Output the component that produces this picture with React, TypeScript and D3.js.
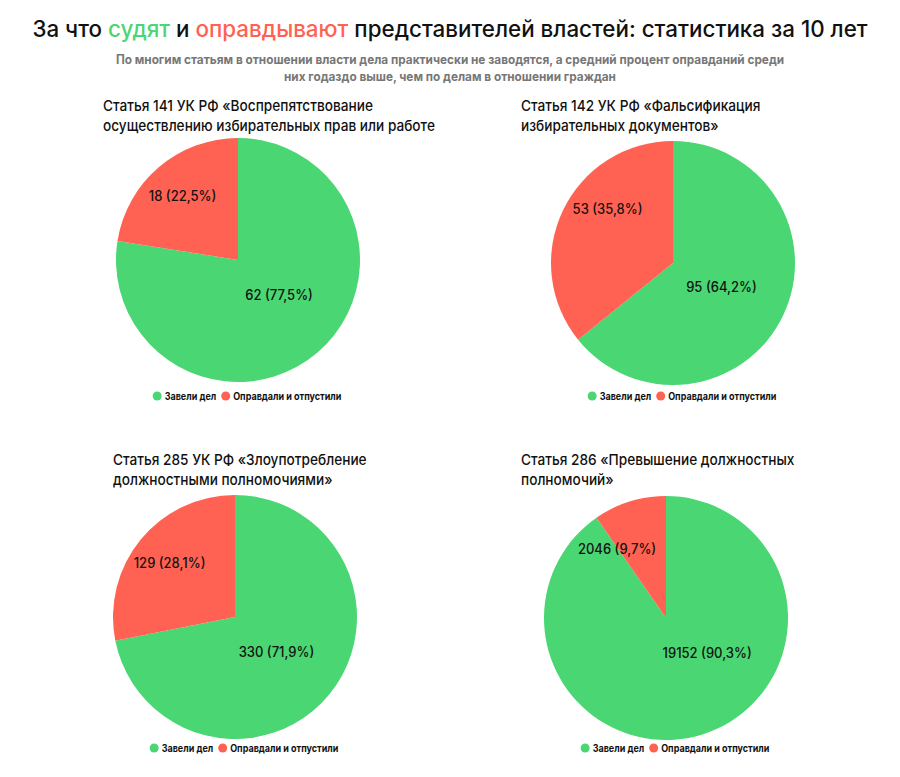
import React from "react";
import * as d3 from "d3";

// ---------- DATA ----------
const categories = ["Завели дел", "Оправдали и отпустили"];
const articleTitles = [
  ["Статья 141 УК РФ «Воспрепятствование", "осуществлению избирательных прав или работе"],
  ["Статья 142 УК РФ «Фальсификация", "избирательных документов»"],
  ["Статья 285 УК РФ «Злоупотребление", "должностными полномочиями»"],
  ["Статья 286 «Превышение должностных", "полномочий»"],
];
const casesOpened = [62, 95, 330, 19152];
const acquittedReleased = [18, 53, 129, 2046];

const titleParts = [
  { text: "За что ", kind: "plain" },
  { text: "судят", kind: "green" },
  { text: " и ", kind: "plain" },
  { text: "оправдывают", kind: "red" },
  { text: " представителей властей: статистика за 10 лет", kind: "plain" },
];
const subtitleLines = [
  "По многим статьям в отношении власти дела практически не заводятся, а средний процент оправданий среди",
  "них годаздо выше, чем по делам в отношении граждан",
];

// ---------- STYLE / LAYOUT ----------
const GREEN = "#4ad672";
const RED = "#ff6252";
const FONT = "Inter, 'Noto Sans', sans-serif";
const R = 122;
const layout = [
  { cx: 238, cy: 260, tx: 103, ty: 111, ly: 396 },
  { cx: 673, cy: 263, tx: 521, ty: 111, ly: 396 },
  { cx: 235, cy: 617, tx: 113, ty: 465, ly: 748 },
  { cx: 666, cy: 618, tx: 521, ty: 465, ly: 748 },
];
const colorScale = d3.scaleOrdinal<string, string>().domain(categories).range([GREEN, RED]);
const fmtPct = (v: number) => d3.format(".1f")(v).replace(".", ",");

let measureCtx: CanvasRenderingContext2D | null = null;
function measure(text: string, size: number, weight: number) {
  if (!measureCtx) measureCtx = document.createElement("canvas").getContext("2d");
  measureCtx!.font = `${weight} ${size}px ${FONT}`;
  return measureCtx!.measureText(text).width;
}

// condensed text: measured width scaled by factor
function CText({
  text,
  size,
  weight,
  factor,
  fill = "#111",
  ...rest
}: {
  text: string;
  size: number;
  weight: number;
  factor: number;
  fill?: string;
  [k: string]: any;
}) {
  return (
    <text
      fontFamily={FONT}
      fontSize={size}
      fontWeight={weight}
      fill={fill}
      textLength={measure(text, size, weight) * factor}
      lengthAdjust="spacingAndGlyphs"
      {...rest}
    >
      {text}
    </text>
  );
}

const TITLE_WIDTH = 836;
const F_PANEL = 0.91;
const F_SUB = 0.943;
const F_LABEL = 0.93;
const F_LEGEND = 0.9;

function Panel({ idx }: { idx: number }) {
  const L = layout[idx];
  const values = [casesOpened[idx], acquittedReleased[idx]];
  const total = d3.sum(values);
  const pie = d3.pie<number>().sort(null).value((d) => d)(values);
  const arc = d3.arc<d3.PieArcDatum<number>>().innerRadius(0).outerRadius(R);
  const deg = Math.PI / 180;

  const dotR = 4.5;
  const gapDot = 3;
  const gapItem = 5;
  const widths = categories.map((c) => measure(c, 10, 700) * F_LEGEND);
  const totalW = widths.reduce((s, w) => s + 2 * dotR + gapDot + w, 0) + gapItem;
  let lx = L.cx + 9 - totalW / 2;
  const legendItems = categories.map((c, i) => {
    const x0 = lx;
    lx += 2 * dotR + gapDot + widths[i] + gapItem;
    return { c, x0 };
  });

  return (
    <g>
      {articleTitles[idx].map((line, i) => (
        <CText key={i} text={line} size={15} weight={500} factor={F_PANEL} x={L.tx} y={L.ty + i * 20} />
      ))}
      <g transform={`translate(${L.cx},${L.cy})`}>
        {pie.map((p, i) => (
          <path key={i} d={arc(p) || ""} fill={colorScale(categories[i])} />
        ))}
        {pie.map((p, i) => {
          const mid = (p.startAngle + p.endAngle) / 2;
          const a =
            i === 0 ? Math.min(mid, 130 * deg) : Math.max(310 * deg, Math.min(mid, 325 * deg));
          const d = i === 0 ? 0.44 * R : 0.7 * R;
          return (
            <CText
              key={"l" + i}
              text={`${values[i]} (${fmtPct((values[i] / total) * 100)}%)`}
              size={14}
              weight={500}
              factor={F_LABEL}
              x={Math.sin(a) * d}
              y={-Math.cos(a) * d}
              textAnchor="middle"
              dominantBaseline="central"
            />
          );
        })}
      </g>
      <g>
        {legendItems.map(({ c, x0 }) => (
          <g key={c}>
            <circle cx={x0 + dotR} cy={L.ly} r={dotR} fill={colorScale(c)} />
            <CText
              text={c}
              size={10}
              weight={700}
              factor={F_LEGEND}
              x={x0 + 2 * dotR + gapDot}
              y={L.ly}
              dominantBaseline="central"
            />
          </g>
        ))}
      </g>
    </g>
  );
}

function Title() {
  const weight = 500;
  const full = titleParts.map((p) => p.text).join("");
  const size = (24 * TITLE_WIDTH) / measure(full, 24, weight);
  return (
    <text
      x={450}
      y={37}
      textAnchor="middle"
      fontFamily={FONT}
      fontSize={size}
      fontWeight={weight}
      fill="#111"
      style={{ whiteSpace: "pre" }}
    >
      {titleParts.map((p, i) => (
        <tspan key={i} fill={p.kind === "green" ? GREEN : p.kind === "red" ? RED : "#111"}>
          {p.text}
        </tspan>
      ))}
    </text>
  );
}

export default function App() {
  return (
    <svg
      width={900}
      height={777}
      style={{ position: "absolute", left: 0, top: 0, display: "block", background: "#fff" }}
    >
      <Title />
      {subtitleLines.map((l, i) => (
        <CText
          key={i}
          text={l}
          size={12.5}
          weight={700}
          factor={F_SUB}
          fill="#777"
          x={450}
          y={64 + i * 17}
          textAnchor="middle"
        />
      ))}
      {layout.map((_, i) => (
        <Panel key={i} idx={i} />
      ))}
    </svg>
  );
}
